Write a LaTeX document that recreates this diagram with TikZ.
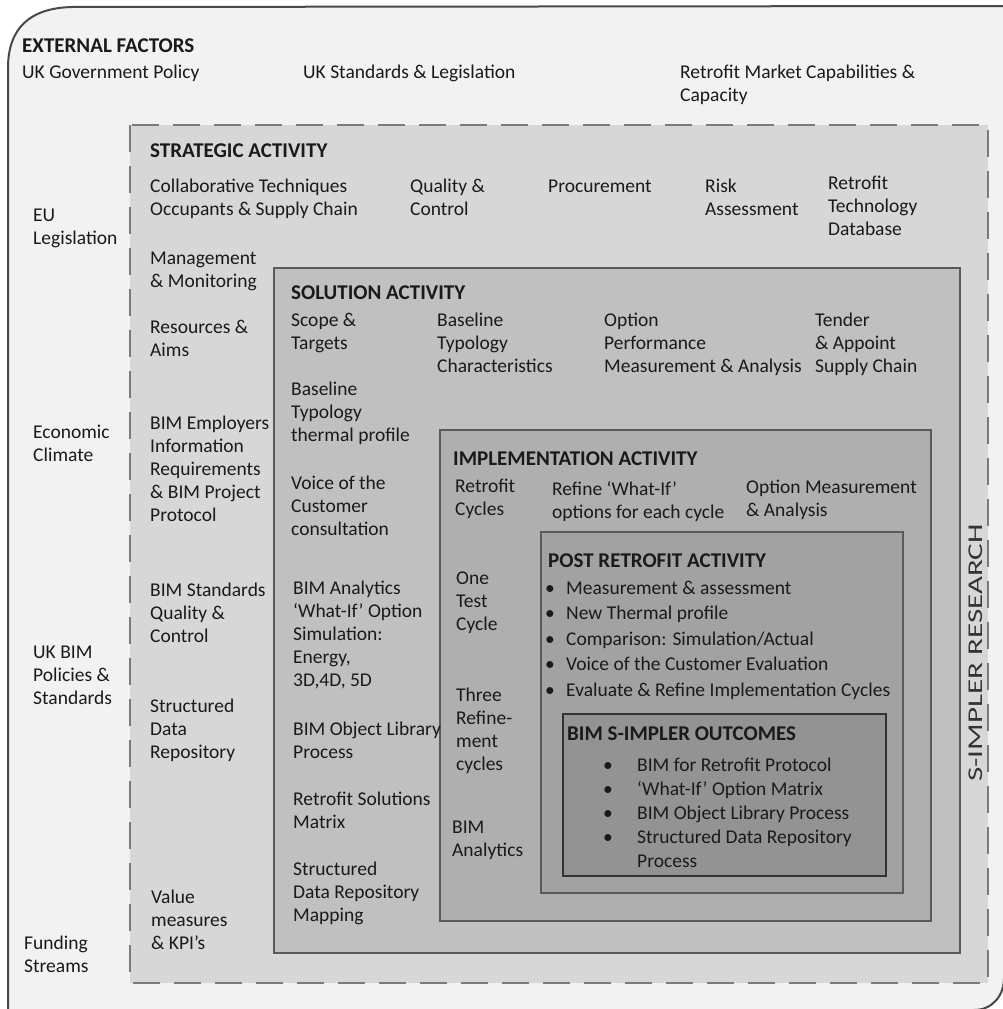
\documentclass[tikz,border=0pt]{standalone}
\usepackage{fontspec}
\setmainfont{Carlito}
\usepackage{graphicx}
\definecolor{bgouter}{HTML}{F2F2F2}
\definecolor{fstrat}{HTML}{D7D7D7}
\definecolor{fsol}{HTML}{C0C0C0}
\definecolor{fimp}{HTML}{AFAFAF}
\definecolor{fpost}{HTML}{A2A2A2}
\definecolor{fout}{HTML}{939393}
\definecolor{edgec}{HTML}{5A5A5A}
\definecolor{dashc}{HTML}{7A7A7A}
\definecolor{ink}{HTML}{1A1A1A}
\newcommand\bodyfont{\fontsize{19.5}{23}\selectfont}
\newcommand\ttlfont{\fontsize{21}{25}\selectfont\bfseries}
\newcommand\fstrut{\rule{0pt}{16pt}}
\begin{document}
\begin{tikzpicture}[x=1pt,y=-1pt,
  txt/.style={anchor=north west, inner sep=0pt, align=left, font=\bodyfont, text=ink, yshift=10pt},
  ttl/.style={anchor=base west, inner sep=0pt, font=\ttlfont, text=ink, yshift=-7pt},
  boxline/.style={draw=edgec, line width=1.6pt},
  dashline/.style={draw=dashc, line width=2.4pt, dash pattern=on 27pt off 14pt},
  outerline/.style={draw=edgec!80!black, line width=2pt}]
\useasboundingbox (0,0) rectangle (1003,1009);
\fill[white] (0,0) rectangle (1003,1009);
% outer box
\draw[outerline, fill=bgouter] (8,1030) -- (8,68) .. controls (8,28) and (30,8) .. (72,7)
  -- (1004,6) -- (1004,978) .. controls (1004,996) and (992,1010) .. (974,1010) -- (8,1010) -- cycle;
% strategic (dashed)
\fill[fstrat] (130,125) rectangle (988,983);
\draw[dashline] (130,125) rectangle (988,983);
% solution
\draw[boxline, fill=fsol] (274,268) rectangle (960,953);
% implementation
\draw[boxline, fill=fimp] (440,430) rectangle (931,921);
% post retrofit
\draw[boxline, fill=fpost] (541,532) rectangle (903,893);
% outcomes
\draw[draw=black!80, line width=2pt, fill=fout] (563,714) rectangle (886,876);

% external factors
\node[ttl] (ext) at (22,45) {EXTERNAL FACTORS};
\node[txt] (ukgov) at (22,72) {\fstrut UK Government Policy};
\node[txt] (ukstd) at (303,72) {\fstrut UK Standards \& Legislation};
\node[txt] (mkt) at (680,72) {\fstrut Retrofit Market Capabilities \&\\Capacity};
\node[txt] (eu) at (33,215) {\fstrut EU\\Legislation};
\node[txt] (econ) at (33,432) {\fstrut Economic\\Climate};
\node[txt] (ukbim) at (33,652) {\fstrut UK BIM\\Policies \&\\Standards};
\node[txt] (fund) at (24,943) {\fstrut Funding\\Streams};

% strategic activity
\node[ttl] (strat) at (150,150) {STRATEGIC ACTIVITY};
\node[txt] (collab) at (150,186) {\fstrut Collaborative Techniques\\Occupants \& Supply Chain};
\node[txt] (qual) at (410,186) {\fstrut Quality \&\\Control};
\node[txt] (proc) at (548,186) {\fstrut Procurement};
\node[txt] (risk) at (705,186) {\fstrut Risk\\Assessment};
\node[txt] (rtd) at (828,183) {\fstrut Retrofit\\Technology\\Database};
\node[txt] (mgmt) at (150,258) {\fstrut Management\\\& Monitoring};
\node[txt] (res) at (150,327) {\fstrut Resources \&\\Aims};
\node[txt] (eir) at (150,423) {\fstrut BIM Employers\\Information\\Requirements\\\& BIM Project\\Protocol};
\node[txt] (bimstd) at (150,590) {\fstrut BIM Standards\\Quality \&\\Control};
\node[txt] (sdr) at (150,706) {\fstrut Structured\\Data\\Repository};
\node[txt] (val) at (151,897) {\fstrut Value\\measures\\\& KPI’s};

% solution activity
\node[ttl] (sol) at (291,292) {SOLUTION ACTIVITY};
\node[txt] (scope) at (291,320) {\fstrut Scope \&\\Targets};
\node[txt] (btc) at (437,320) {\fstrut Baseline\\Typology\\Characteristics};
\node[txt] (opm) at (604,320) {\fstrut Option\\Performance\\Measurement \& Analysis};
\node[txt] (tender) at (815,320) {\fstrut Tender\\\& Appoint\\Supply Chain};
\node[txt] (btp) at (291,389) {\fstrut Baseline\\Typology\\thermal profile};
\node[txt] (voc) at (291,483) {\fstrut Voice of the\\Customer\\consultation};
\node[txt] (bima) at (293,588) {\fstrut BIM Analytics\\‘What-If’ Option\\Simulation:\\Energy,\\3D,4D, 5D};
\node[txt] (bol) at (293,729) {\fstrut BIM Object Library\\Process};
\node[txt] (rsm) at (293,799) {\fstrut Retrofit Solutions\\Matrix};
\node[txt] (sdrm) at (293,869) {\fstrut Structured\\Data Repository\\Mapping};

% implementation activity
\node[ttl] (imp) at (453,458) {IMPLEMENTATION ACTIVITY};
\node[txt] (rc) at (455,486) {\fstrut Retrofit\\Cycles};
\node[txt] (rwi) at (552,489) {\fstrut Refine ‘What-If’\\options for each cycle};
\node[txt] (oma) at (746,487) {\fstrut Option Measurement\\\& Analysis};
\node[txt] (otc) at (456,578) {\fstrut One\\Test\\Cycle};
\node[txt] (trc) at (456,695) {\fstrut Three\\Refine-\\ment\\cycles};
\node[txt] (bimaa) at (452,827) {\fstrut BIM\\Analytics};

% post retrofit activity
\node[ttl] (post) at (548,560) {POST RETROFIT ACTIVITY};
\node[txt, anchor=north, font=\fontsize{19.5}{25.5}\selectfont] (pdots) at (550,588) {\fstrut •\\•\\•\\•\\•};
\node[txt, font=\fontsize{19.5}{25.5}\selectfont] (plist) at (566,588) {\fstrut Measurement \& assessment\\New Thermal profile\\Comparison: Simulation/Actual\\Voice of the Customer Evaluation\\Evaluate \& Refine Implementation Cycles};

% outcomes
\node[ttl] (outc) at (567,733) {BIM S-IMPLER OUTCOMES};
\node[txt, anchor=north, font=\fontsize{19.5}{24}\selectfont] (odots) at (608,765) {\fstrut •\\•\\•\\•};
\node[txt, font=\fontsize{19.5}{24}\selectfont] (olist) at (637,765) {\fstrut BIM for Retrofit Protocol\\‘What-If’ Option Matrix\\BIM Object Library Process\\Structured Data Repository\\Process};

% side label
\node[anchor=base, rotate=90, inner sep=0pt, font=\fontsize{21}{25}\selectfont, text=black!80] (sres) at (982,653) {\scalebox{1.48}[1]{S-IMPLER RESEARCH}};
\end{tikzpicture}
\end{document}
